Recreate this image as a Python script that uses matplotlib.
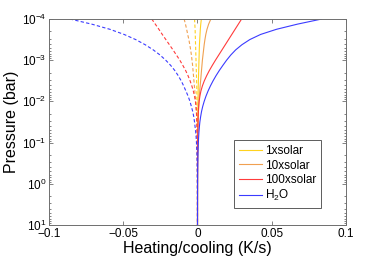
import numpy as np
import matplotlib
matplotlib.use("Agg")
import matplotlib.pyplot as plt

plt.rcParams['font.family'] = ['Liberation Sans', 'DejaVu Sans']
plt.rcParams['mathtext.fontset'] = 'custom'
plt.rcParams['mathtext.rm'] = 'Liberation Sans'
plt.rcParams['mathtext.it'] = 'Liberation Sans'

# log10 pressure levels (bar)
logp = [-4.0, -3.875, -3.75, -3.625, -3.5, -3.375, -3.25, -3.125, -3.0,
        -2.875, -2.75, -2.625, -2.5, -2.375, -2.25, -2.125, -2.0,
        -1.875, -1.75, -1.625, -1.5, -1.375, -1.25, -1.125, -1.0,
        -0.75, -0.5, -0.25, 0.0, 0.25, 0.5, 0.75, 1.0]

# heating rates (K/s), solid lines
heat_1x = [0.0026, 0.0022, 0.0019, 0.0017, 0.0015, 0.0013, 0.0012, 0.0011, 0.0010,
           0.0009, 0.0008, 0.0007, 0.0006, 0.0005, 0.00045, 0.0004, 0.00035,
           0.0003, 0.00025, 0.0002, 0.00018, 0.00015, 0.00012, 0.0001, 0.00008,
           0.00005, 0.00004, 0.00003, 0.00002, 0.00002, 0.00001, 0.00001, 0.00001]
heat_10x = [0.0090, 0.0075, 0.0064, 0.0056, 0.0050, 0.0045, 0.0041, 0.0037, 0.0033,
            0.0030, 0.0027, 0.0024, 0.0021, 0.0018, 0.0015, 0.0012, 0.0010,
            0.0008, 0.0006, 0.0005, 0.0004, 0.0003, 0.00025, 0.0002, 0.00015,
            0.0001, 0.00008, 0.00006, 0.00004, 0.00003, 0.00002, 0.00002, 0.00001]
heat_100x = [0.0297, 0.0275, 0.0253, 0.0231, 0.0209, 0.0187, 0.0165, 0.0143, 0.0121,
             0.0100, 0.0080, 0.0062, 0.0046, 0.0033, 0.0023, 0.0016, 0.0011,
             0.0008, 0.0006, 0.00045, 0.00035, 0.00028, 0.00022, 0.00017, 0.00013,
             0.0001, 0.00008, 0.00006, 0.00004, 0.00003, 0.00002, 0.00002, 0.00001]
heat_h2o = [0.0837, 0.0673, 0.0532, 0.0425, 0.0352, 0.0299, 0.0257, 0.0224, 0.0196,
            0.0171, 0.0147, 0.0125, 0.0105, 0.0087, 0.0071, 0.0057, 0.0045,
            0.0035, 0.0027, 0.0021, 0.0016, 0.00125, 0.00097, 0.00076, 0.00059,
            0.00036, 0.00022, 0.00013, 0.00008, 0.00005, 0.00003, 0.00002, 0.00001]

# cooling rates (K/s), dashed lines
cool_1x = [-0.0020, -0.0018, -0.0016, -0.0015, -0.0014, -0.0013, -0.0012, -0.0011, -0.0010,
           -0.0009, -0.0008, -0.0007, -0.0006, -0.0005, -0.00045, -0.0004, -0.00035,
           -0.0003, -0.00025, -0.0002, -0.00018, -0.00015, -0.00012, -0.0001, -0.00008,
           -0.00005, -0.00004, -0.00003, -0.00002, -0.00002, -0.00001, -0.00001, -0.00001]
cool_10x = [-0.0090, -0.0081, -0.0073, -0.0066, -0.0058, -0.0052, -0.0046, -0.0041, -0.0037,
            -0.0033, -0.0030, -0.0027, -0.0024, -0.0021, -0.0018, -0.0015, -0.0012,
            -0.0010, -0.0008, -0.0006, -0.0005, -0.0004, -0.0003, -0.00025, -0.0002,
            -0.00015, -0.0001, -0.00008, -0.00005, -0.00004, -0.00003, -0.00002, -0.00001]
cool_100x = [-0.0308, -0.0284, -0.0260, -0.0237, -0.0213, -0.0189, -0.0165, -0.0142, -0.0119,
             -0.0099, -0.0080, -0.0064, -0.0050, -0.0038, -0.0028, -0.0020, -0.0014,
             -0.0010, -0.0007, -0.0005, -0.0004, -0.0003, -0.00025, -0.0002, -0.00015,
             -0.0001, -0.00008, -0.00006, -0.00004, -0.00003, -0.00002, -0.00002, -0.00001]
cool_h2o = [-0.0859, -0.0712, -0.0590, -0.0494, -0.0416, -0.0352, -0.0298, -0.0252, -0.0214,
            -0.0181, -0.0153, -0.0130, -0.0110, -0.0093, -0.0078, -0.0063, -0.0051,
            -0.0041, -0.0032, -0.0025, -0.0020, -0.0016, -0.0012, -0.0009, -0.0007,
            -0.0004, -0.0002, -0.00012, -0.00008, -0.00005, -0.00003, -0.00002, -0.00001]

labels = ['1xsolar', '10xsolar', '100xsolar', 'H$_2$O']
colors = ['#FFD21F', '#F0A050', '#FF3B3B', '#3B3BFF']
heats = [heat_1x, heat_10x, heat_100x, heat_h2o]
cools = [cool_1x, cool_10x, cool_100x, cool_h2o]

p = 10.0 ** np.array(logp)

fig = plt.figure(figsize=(3.82, 2.60), dpi=100)
ax = fig.add_axes([0.128, 0.135, 0.778, 0.792])

handles = []
for lab, c, h, cl in zip(labels, colors, heats, cools):
    ln, = ax.plot(h, p, '-', color=c, lw=0.8, label=lab)
    ax.plot(cl, p, '--', color=c, lw=0.8, dashes=(3, 2))
    handles.append(ln)

ax.set_yscale('log')
ax.set_ylim(10, 1e-4)
ax.set_xlim(-0.1, 0.1)
ax.set_xticks([-0.1, -0.05, 0, 0.05, 0.1])
ax.set_xticklabels(['\u22120.1', '\u22120.05', '0', '0.05', '0.1'])
ax.set_yticks([1e-4, 1e-3, 1e-2, 1e-1, 1e0, 1e1])

for s in ax.spines.values():
    s.set_color('#6e6e6e')
    s.set_linewidth(0.7)
ax.tick_params(axis='both', which='both', direction='in', top=True, right=True,
               color='#6e6e6e', labelsize=8.5, width=0.6)
ax.tick_params(axis='both', which='major', length=3)
ax.tick_params(axis='y', which='minor', length=1.5)
ax.tick_params(axis='x', pad=2)
ax.tick_params(axis='y', pad=2)

ax.set_xlabel('Heating/cooling (K/s)', fontsize=11.5, labelpad=1)
ax.set_ylabel('Pressure (bar)', fontsize=11.5, labelpad=2)

leg = ax.legend(handles=handles, loc='upper left', bbox_to_anchor=(0.623, 0.41),
                fontsize=8.5, frameon=True, fancybox=False, edgecolor='#333333',
                handlelength=2.0, handletextpad=0.2, labelspacing=0.2,
                borderpad=0.4, borderaxespad=0)
leg.get_frame().set_linewidth(0.7)

fig.savefig('out.png', dpi=100)
